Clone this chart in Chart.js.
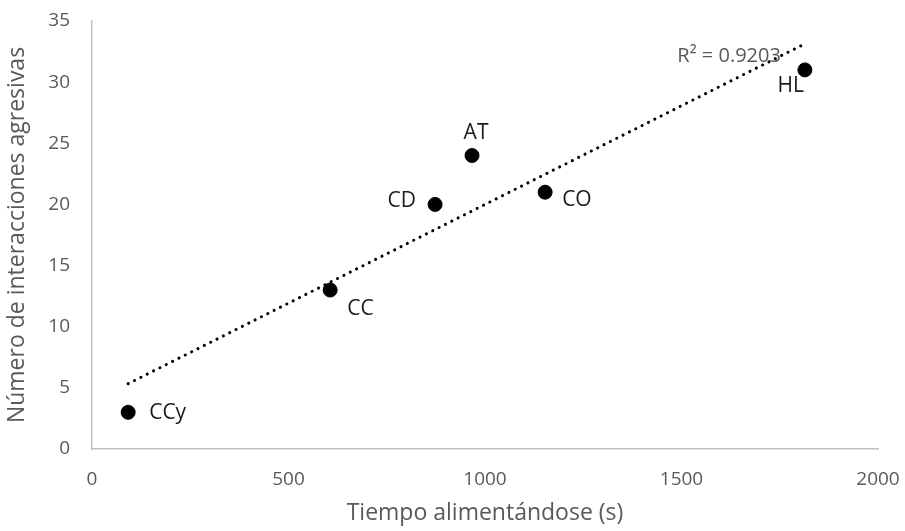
<!DOCTYPE html>
<html>
<head>
<meta charset="utf-8">
<script src="https://cdn.jsdelivr.net/npm/chart.js@4/dist/chart.umd.min.js"></script>
<style>
  html, body { margin: 0; padding: 0; background: #fff; }
  #wrap { width: 905px; height: 531px; }
</style>
</head>
<body>
<div id="wrap"><canvas id="scatterChart"></canvas></div>
<script>
// ---- data ----
const species = ["CCy", "CC", "CD", "AT", "CO", "HL"];
const feedingTime = [92, 606, 873, 967, 1153, 1814];
const aggressions = [3, 13, 20, 24, 21, 31];
const r2Text = "R² = 0.9203";

// label offsets (px) relative to each point
const labelOffsets = [[21, 1, "left"], [17, 19, "left"], [-19, -3, "right"], [4, -22, "center"], [17, 8, "left"], [-1, 16, "right"]];

// ---- linear trend (least squares) ----
const n = feedingTime.length;
const mx = feedingTime.reduce((a, b) => a + b, 0) / n;
const my = aggressions.reduce((a, b) => a + b, 0) / n;
let sxy = 0, sxx = 0;
feedingTime.forEach((x, i) => {
  sxy += (x - mx) * (aggressions[i] - my);
  sxx += (x - mx) * (x - mx);
});
const slope = sxy / sxx;
const intercept = my - slope * mx;
const xMin = Math.min(...feedingTime);
const xMax = Math.max(...feedingTime);
const trend = [
  { x: xMin, y: intercept + slope * xMin },
  { x: xMax, y: intercept + slope * xMax },
];

const points = feedingTime.map((x, i) => ({ x: x, y: aggressions[i] }));

const FONT = "'Open Sans', sans-serif";
const GREY = "#595959";

/* ================= LABELS PLUGIN ================= */
const pointLabels = {
  id: "pointLabels",
  afterDatasetsDraw(chart) {
    const ctx = chart.ctx;
    const meta = chart.getDatasetMeta(1);
    ctx.save();
    ctx.font = "21px " + FONT;
    ctx.fillStyle = "#1a1a1a";
    ctx.textBaseline = "middle";
    meta.data.forEach((pt, i) => {
      const [dx, dy, align] = labelOffsets[i];
      ctx.textAlign = align;
      ctx.fillText(species[i], pt.x + dx, pt.y + dy);
    });
    // R² text near the end of the trendline
    const tMeta = chart.getDatasetMeta(0);
    const end = tMeta.data[1];
    ctx.fillStyle = GREY;
    ctx.font = "20px " + FONT;
    ctx.textAlign = "right";
    ctx.fillText(r2Text, end.x - 24, end.y + 13);
    ctx.restore();
  },
};

new Chart(document.getElementById("scatterChart"), {
  type: "scatter",
  data: {
    datasets: [
      {
        type: "line",
        data: trend,
        borderColor: "#000",
        borderWidth: 3,
        borderDash: [0.1, 7],
        borderCapStyle: "round",
        pointRadius: 0,
        fill: false,
      },
      {
        data: points,
        backgroundColor: "#000",
        borderColor: "#000",
        pointRadius: 7,
        pointHoverRadius: 7,
      },
    ],
  },
  options: {
    responsive: true,
    maintainAspectRatio: false,
    animation: false,
    layout: { padding: { top: 21, right: 27, left: 0, bottom: 0 } },
    plugins: { legend: { display: false }, tooltip: { enabled: false } },
    scales: {
      x: {
        type: "linear",
        min: 0,
        max: 2000,
        ticks: { stepSize: 500, color: GREY, font: { family: FONT, size: 19 }, padding: 19, callback: (v) => String(v) },
        grid: { drawOnChartArea: false, drawTicks: false },
        border: { display: true, color: "#bfbfbf", width: 1.5 },
        title: { display: true, text: "Tiempo alimentándose (s)", color: GREY, font: { family: FONT, size: 23 }, padding: { top: 2 } },
        afterFit: (scale) => {
          scale.height = 82;
          scale.paddingLeft = 0;
          scale.paddingRight = 0;
        },
      },
      y: {
        min: 0,
        max: 35,
        ticks: { stepSize: 5, color: GREY, font: { family: FONT, size: 19 }, padding: 22 },
        grid: { drawOnChartArea: false, drawTicks: false },
        border: { display: true, color: "#bfbfbf", width: 1.5 },
        title: { display: true, text: "Número de interacciones agresivas", color: GREY, font: { family: FONT, size: 23 }, padding: { bottom: 0 } },
        afterFit: (scale) => {
          scale.width = 92;
          scale.paddingTop = 0;
          scale.paddingBottom = 0;
        },
      },
    },
  },
  plugins: [pointLabels],
});
</script>
</body>
</html>
